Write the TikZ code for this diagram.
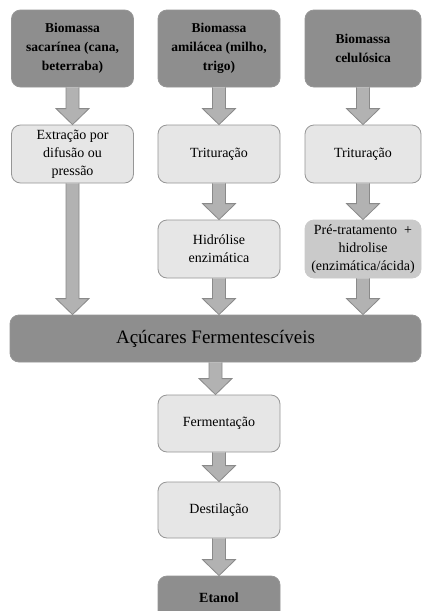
\documentclass[tikz,border=0pt]{standalone}
\usepackage{fontspec}
\setmainfont{Liberation Serif}
\usetikzlibrary{calc}
\definecolor{darkbox}{RGB}{142,142,142}
\definecolor{lightbox}{RGB}{230,230,230}
\definecolor{midbox}{RGB}{202,202,202}
\definecolor{boxline}{RGB}{150,150,150}
\definecolor{arrowfill}{RGB}{178,178,178}
\definecolor{arrowline}{RGB}{138,138,138}
\tikzstyle{box} = [draw=boxline, line width=0.8pt, rounded corners=9pt, align=center, inner sep=0pt, minimum width=122pt, font={\fontsize{14}{18}\selectfont}]
\tikzstyle{src} = [box, fill=darkbox, font={\fontsize{13.5}{19}\selectfont\bfseries}, minimum height=77pt]
\tikzstyle{stage} = [box, fill=lightbox, minimum height=58pt]
\tikzstyle{pretreat} = [box, draw=midbox, fill=midbox, minimum height=58pt, minimum width=116pt]
\tikzstyle{blockarrow} = [draw=arrowline, fill=arrowfill, line width=0.8pt, line join=miter]
\newcommand{\bigarrow}[2]{%
  \filldraw[blockarrow] ($(#1.south)+(-6.5,0)$) -- ($(#1.south |- #2.north)+(-6.5,-16)$) -- ++(-10,0)
    -- (#1.south |- #2.north) -- ++(16.5,-16) -- ++(-10,0) -- ($(#1.south)+(6.5,0)$);}

\begin{document}
\begin{tikzpicture}[x=1pt,y=-1pt]
        \clip (0,0) rectangle (422,611);
        \fill[white] (0,0) rectangle (422,611);
        \node[src](s1) at (72.5,48.5){Biomassa\\sacarínea (cana,\\beterraba)};
        \node[src](s2) at (219,48.5){Biomassa\\amilácea (milho,\\trigo)};
        \node[src,minimum width=116pt](s3) at (363,48.5){Biomassa\\celulósica};
        \node[stage](e1) at (72.5,154){Extração por\\difusão ou\\pressão};
        \node[stage](t2) at (219,154){Trituração};
        \node[stage,minimum width=116pt](t3) at (363,154){Trituração};
        \node[stage](h2) at (219,249){Hidrólise\\enzimática};
        \node[pretreat](h3) at (363,249){Pré-tratamento~~+\\hidrolise\\(enzimática/ácida)};
        \node[box,fill=darkbox,minimum width=411pt,minimum height=47pt,font={\fontsize{19}{21}\selectfont}](ac) at (215.5,338.5){Açúcares Fermentescíveis};
        \node[stage,minimum height=57pt](fe) at (219,423.5){Fermentação};
        \node[stage,minimum height=56pt](de) at (219,510){Destilação};
        \node[box,fill=darkbox,minimum height=44pt,font={\fontsize{14}{18}\selectfont\bfseries}](et) at (219,598){Etanol};
        \bigarrow{s1}{e1}
        \bigarrow{s2}{t2}
        \bigarrow{s3}{t3}
        \bigarrow{e1}{ac}
        \bigarrow{t2}{h2}
        \bigarrow{t3}{h3}
        \bigarrow{h2}{ac}
        \bigarrow{h3}{ac}
        \bigarrow{ac}{fe}
        \bigarrow{fe}{de}
        \bigarrow{de}{et}
      \end{tikzpicture}
\end{document}
